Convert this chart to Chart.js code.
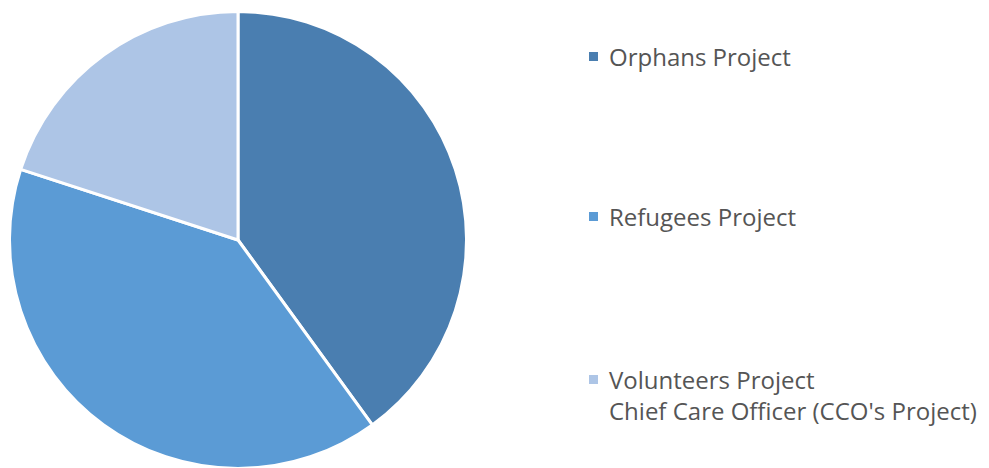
<!DOCTYPE html>
<html>
<head>
<meta charset="utf-8">
<script src="https://cdn.jsdelivr.net/npm/chart.js@4.4.0/dist/chart.umd.min.js"></script>
<style>
  html, body { margin: 0; padding: 0; background: #fff; overflow: hidden; }
  body { width: 989px; height: 468px; position: relative; font-family: "Open Sans", sans-serif; }
  #wrap { position: absolute; left: 8px; top: 10px; width: 460px; height: 460px; }
  #legend { position: absolute; left: 588px; top: 0; color: #555555; font-size: 24px; }
  .item { position: absolute; white-space: nowrap; line-height: 31px; }
  .box { position: absolute; left: 1px; top: 11px; width: 9px; height: 9px; }
  .txt { position: absolute; left: 21px; top: 0; }
</style>
</head>
<body>
<div id="wrap"><canvas id="pie" width="460" height="460"></canvas></div>
<div id="legend"></div>
<script>
const labels = ["Orphans Project", "Refugees Project", "Volunteers Project"];
const legendText = [
    ["Orphans Project"],
    ["Refugees Project"],
    ["Volunteers Project", "Chief Care Officer (CCO's Project)"]
];
const shares = [40, 40, 20];
const colors = ["#4a7eb0", "#5b9bd5", "#adc5e6"];
const legendTops = [41, 201, 364];

const legend = document.getElementById("legend");
legendText.forEach((lines, i) => {
    const item = document.createElement("div");
    item.className = "item";
    item.style.top = legendTops[i] + "px";
    item.innerHTML = `<span class="box" style="background:${colors[i]}"></span>` +
        `<span class="txt">${lines.join("<br>")}</span>`;
    legend.appendChild(item);
});

new Chart(document.getElementById("pie"), {
    type: "pie",
    data: {
        labels: labels,
        datasets: [{
            data: shares,
            backgroundColor: colors,
            borderColor: "#ffffff",
            borderWidth: 3,
            hoverOffset: 0
        }]
    },
    options: {
        responsive: false,
        animation: false,
        devicePixelRatio: 1,
        layout: { padding: 0 },
        plugins: {
            legend: { display: false },
            tooltip: { enabled: false }
        }
    }
});
</script>
</body>
</html>
